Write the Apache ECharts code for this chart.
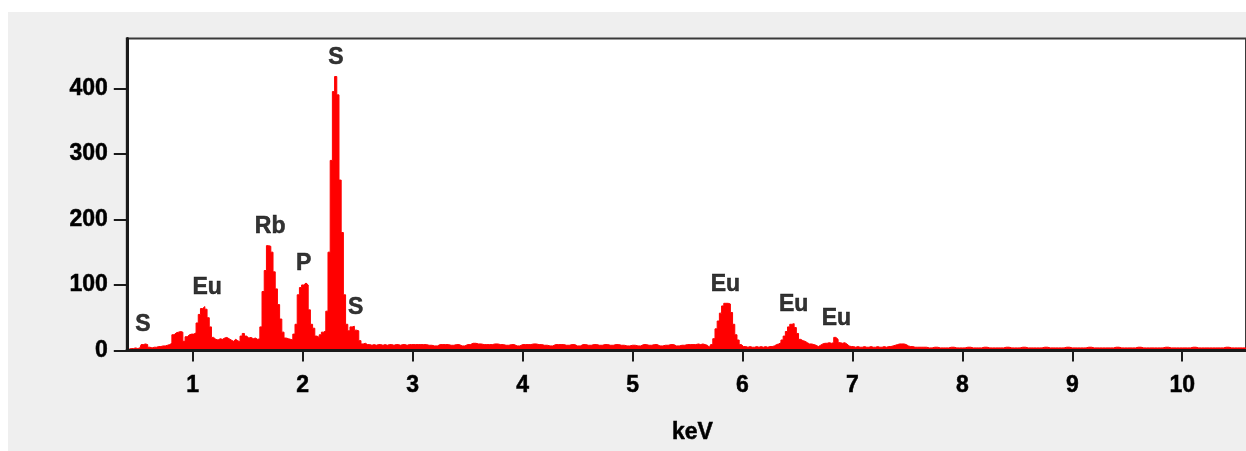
<!DOCTYPE html>
<html>
<head>
<meta charset="utf-8">
<title>EDS spectrum</title>
<script src="https://cdn.jsdelivr.net/npm/echarts@6/dist/echarts.min.js"></script>
<style>
  html, body { margin: 0; padding: 0; background: #ffffff; }
  #panel { position: absolute; left: 8px; top: 12px; right: 0; bottom: 0; background: #efefef; }
  #chart { position: absolute; left: 0; top: 0; width: 1246px; height: 451px; }
</style>
</head>
<body>
<div id="panel"></div>
<div id="chart"></div>
<script>
// Spectrum counts, stored as channel runs: each run has a first energy (keV),
// a channel width (keV) and the counts per channel.
const lowStart = 0.40, lowStep = 0.02;   // 0.40 – 3.00 keV
const lowCounts = [
  1, 2, 3, 3, 4, 3, 4, 9, 10, 9,
  5, 4, 5, 5, 6, 6, 7, 7, 8, 9,
  11, 24, 27, 28, 29, 28, 14, 21, 24, 25,
  25, 27, 42, 55, 64, 67, 63, 50, 36, 20,
  17, 16, 18, 17, 19, 20, 18, 16, 14, 17,
  15, 13, 22, 26, 22, 19, 20, 18, 19, 17,
  18, 36, 90, 122, 160, 159, 150, 120, 94, 70,
  48, 28, 19, 18, 17, 16, 25, 40, 85, 96,
  100, 103, 100, 62, 40, 34, 22, 20, 24, 28,
  30, 60, 150, 290, 395, 418, 390, 260, 180, 85,
  40, 30, 36, 37, 31, 30, 15, 10, 11, 9,
  9, 8, 9, 8, 9, 9, 8, 9, 8, 9,
  9, 8, 9, 9, 8, 9, 9, 8, 9, 9,
  9
];
const midStart = 3.05, midStep = 0.05;   // 3.05 – 5.55 keV
const midCounts = [
  9, 9, 8, 7, 9, 9, 8, 9, 7, 9,
  11, 10, 9, 9, 10, 9, 8, 9, 7, 9,
  9, 10, 9, 8, 7, 9, 9, 8, 9, 7,
  9, 8, 9, 8, 9, 8, 9, 8, 7, 8,
  7, 9, 8, 9, 7, 8, 9, 7, 8, 9,
  9
];
const euStart = 5.60, euStep = 0.02;     // 5.60 – 7.60 keV
const euCounts = [
  10, 9, 10, 9, 8, 5, 9, 18, 33, 45,
  57, 68, 72, 72, 71, 58, 40, 24, 16, 9,
  6, 6, 5, 6, 5, 5, 6, 5, 6, 5,
  6, 5, 6, 6, 7, 9, 10, 12, 16, 22,
  29, 36, 40, 41, 35, 26, 17, 15, 14, 12,
  10, 10, 9, 8, 6, 8, 10, 11, 11, 12,
  11, 12, 20, 17, 12, 11, 12, 10, 7, 6,
  6, 5, 6, 5, 5, 6, 5, 5, 6, 5,
  5, 6, 5, 5, 6, 5, 6, 6, 7, 8,
  9, 10, 10, 10, 9, 7, 6, 6, 5, 5,
  5
];
const tailStart = 7.65, tailStep = 0.05; // 7.65 – 10.60 keV
const tailCounts = [
  5, 4, 5, 4, 4, 5, 4, 4, 5, 4,
  4, 5, 4, 4, 4, 5, 4, 4, 5, 4,
  4, 4, 5, 4, 4, 4, 5, 4, 4, 4,
  5, 4, 4, 4, 4, 5, 4, 4, 4, 5,
  4, 4, 4, 4, 5, 4, 4, 4, 4, 5,
  4, 4, 4, 4, 4, 5, 4, 4, 4, 4
];

// Element lines marked above their peaks
const peakNames    = ['S', 'Eu', 'Rb', 'P', 'S', 'S', 'Eu', 'Eu', 'Eu'];
const peakEnergies = [0.546, 1.131, 1.704, 2.008, 2.301, 2.482, 5.845, 6.465, 6.855];

// Axis ticks
const xTicks = [1, 2, 3, 4, 5, 6, 7, 8, 9, 10];
const yTicks = [0, 100, 200, 300, 400];

// Build [energy, counts] pairs from the channel runs
const runs = [
  [lowStart, lowStep, lowCounts],
  [midStart, midStep, midCounts],
  [euStart, euStep, euCounts],
  [tailStart, tailStep, tailCounts]
];
const spectrum = [];
runs.forEach(([start, step, counts]) => {
  counts.forEach((c, i) => spectrum.push([+(start + i * step).toFixed(3), c]));
});

// Each label sits on the tallest channel near its line energy
const labelPoints = peakNames.map((name, i) => {
  const e = peakEnergies[i];
  let top = 0;
  spectrum.forEach(([x, c]) => { if (Math.abs(x - e) <= 0.031 && c > top) top = c; });
  return [e, top, name];
});

const FONT = '"Liberation Sans", Arial, Helvetica, sans-serif';
const textStyle = {
  color: '#000000', fontFamily: FONT, fontWeight: 'bold', fontSize: 23,
  textBorderColor: '#000000', textBorderWidth: 0.5
};

const chart = echarts.init(document.getElementById('chart'), null, { renderer: 'canvas' });
chart.setOption({
  animation: false,
  backgroundColor: 'transparent',
  grid: {
    left: 126.8, top: 38.5, right: -4, bottom: 100.5,
    show: true, backgroundColor: '#ffffff', borderColor: '#3a3a3a', borderWidth: 2
  },
  xAxis: {
    type: 'value', min: 0.4, max: 10.58, z: 5,
    axisLine: { show: true, onZero: false, lineStyle: { color: '#1a1a1a', width: 3 } },
    axisTick: { show: true, inside: false, length: 11, customValues: xTicks,
                lineStyle: { color: '#1a1a1a', width: 2 } },
    axisLabel: Object.assign({ customValues: xTicks, margin: 24 }, textStyle),
    splitLine: { show: false },
    name: 'keV', nameLocation: 'middle', nameGap: 71,
    nameTextStyle: Object.assign({ padding: [0, 0, 0, 12] }, textStyle)
  },
  yAxis: {
    type: 'value', min: 0, max: 476, z: 5,
    axisLine: { show: true, lineStyle: { color: '#1a1a1a', width: 3 } },
    axisTick: { show: true, inside: false, length: 13, customValues: yTicks,
                lineStyle: { color: '#1a1a1a', width: 2 } },
    axisLabel: Object.assign({ customValues: yTicks, margin: 19 }, textStyle),
    splitLine: { show: false }
  },
  series: [
    {
      name: 'Counts',
      type: 'line',
      data: spectrum,
      step: 'middle',
      symbol: 'none',
      lineStyle: { color: '#ff0000', width: 1 },
      areaStyle: { color: '#ff0000', opacity: 1 },
      z: 2,
      silent: true
    },
    {
      name: 'Lines',
      type: 'scatter',
      data: labelPoints,
      symbol: 'circle',
      symbolSize: 1,
      itemStyle: { color: 'rgba(0,0,0,0)' },
      label: Object.assign({
        show: true, position: 'top', distance: 7,
        formatter: p => p.data[2]
      }, textStyle),
      z: 6,
      silent: true
    }
  ]
});
</script>
</body>
</html>
